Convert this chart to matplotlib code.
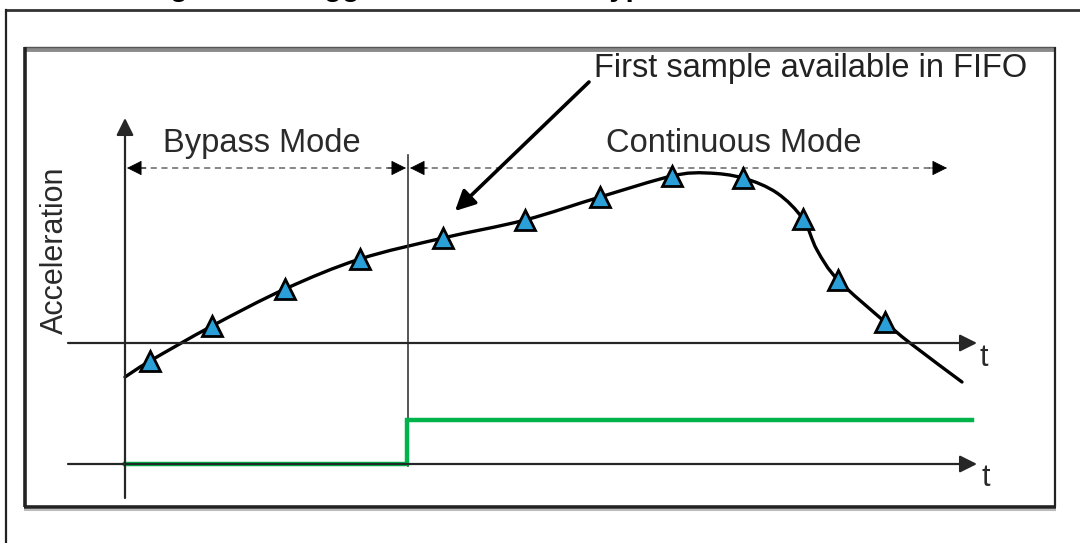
import matplotlib
matplotlib.use("Agg")
import matplotlib.pyplot as plt
from matplotlib.path import Path
import matplotlib.patches as patches

plt.rcParams['font.family'] = ['Liberation Sans', 'DejaVu Sans']

# diagram coordinates (x right, y down)
title = "Figure 11. Trigger event in FIFO Bypass-to-Continuous mode"
mode_labels = ["Bypass Mode", "Continuous Mode"]
mode_label_x = [262, 734]
note_text = "First sample available in FIFO"

# acceleration trace and the FIFO samples on it
curve_x = [125, 150, 212, 285, 360, 443, 525, 600, 672, 707, 743, 777, 803, 817,
           838, 885, 910, 962]
curve_y = [377, 361, 326, 289, 259, 238, 220, 197, 176, 173, 178, 193, 219, 250,
           280, 322, 343, 382]
sample_x = [150, 212, 285, 360, 443, 525, 600, 672, 743, 803, 838, 885]
sample_y = [361, 326, 289, 259, 238, 220, 197, 176, 178, 219, 280, 322]

# trigger signal (low in bypass, high in continuous)
trigger_x = [125, 407, 407, 972]
trigger_y = [464, 464, 420, 420]
switch_x = 408


def smooth_path(xs, ys):
    """Catmull-Rom through the points, as cubic bezier segments"""
    pts = list(zip(xs, ys))
    verts = [pts[0]]
    codes = [Path.MOVETO]
    n = len(pts)
    for i in range(n - 1):
        p0 = pts[i - 1] if i > 0 else pts[i]
        p1 = pts[i]
        p2 = pts[i + 1]
        p3 = pts[i + 2] if i + 2 < n else pts[i + 1]
        c1 = (p1[0] + (p2[0] - p0[0]) / 6, p1[1] + (p2[1] - p0[1]) / 6)
        c2 = (p2[0] - (p3[0] - p1[0]) / 6, p2[1] - (p3[1] - p1[1]) / 6)
        verts += [c1, c2, p2]
        codes += [Path.CURVE4] * 3
    return Path(verts, codes)


fig = plt.figure(figsize=(10.8, 5.43), dpi=100)
ax = fig.add_axes([0, 0, 1, 1])
ax.set_xlim(0, 1080)
ax.set_ylim(543, 0)
ax.axis('off')

# caption sits above the crop, only its descenders show
ax.text(565, -3.5, title, ha='center', va='baseline', fontsize=21,
        fontweight='bold', color='black')

# outer frame
ax.plot([6, 1080], [10, 10], color='#333333', lw=2)
ax.plot([6, 6], [10, 543], color='#222222', lw=1.6)

# inner frame with a bit of shadow
ax.plot([24, 1055], [49, 49], color='#8a8a8a', lw=3.5, solid_capstyle='butt')
ax.plot([24, 1055], [47, 47], color='#555555', lw=1, solid_capstyle='butt')
ax.plot([24.5, 24.5], [47, 507], color='#222222', lw=2.6, solid_capstyle='butt')
ax.plot([24, 1056], [506.5, 506.5], color='#222222', lw=2.6, solid_capstyle='butt')
ax.plot([24, 1056], [509.5, 509.5], color='#bbbbbb', lw=1.5, solid_capstyle='butt')
ax.plot([1055, 1055], [47, 507], color='#222222', lw=1.6, solid_capstyle='butt')

axis_col = '#262626'
# vertical acceleration axis
ax.annotate('', xy=(125, 118), xytext=(125, 498),
            arrowprops=dict(arrowstyle='-|>', color=axis_col, lw=1.6,
                            mutation_scale=26, shrinkA=0, shrinkB=0))
# the two time axes
for ty in (343, 464):
    ax.annotate('', xy=(977, ty), xytext=(68, ty),
                arrowprops=dict(arrowstyle='-|>', color=axis_col, lw=1.6,
                                mutation_scale=26, shrinkA=0, shrinkB=0))
ax.text(979, 366, 't', fontsize=22, color='#2a2a2a', ha='left', va='baseline')
ax.text(981, 486, 't', fontsize=22, color='#2a2a2a', ha='left', va='baseline')

# mode switch line
ax.plot([switch_x, switch_x], [155, 466], color='#3a3a3a', lw=1.2)

ax.text(55, 250, 'Acceleration', rotation=90, fontsize=22, color='#2a2a2a',
        ha='center', va='center')

# mode spans
dash_y = 168
ax.plot([140, 395], [dash_y, dash_y], color='#666666', lw=1.1, ls=(0, (4, 3)))
ax.plot([421, 930], [dash_y, dash_y], color='#666666', lw=1.1, ls=(0, (4, 3)))
for tip, tail in [(127, 146), (406, 388), (410, 428), (947, 929)]:
    ax.annotate('', xy=(tip, dash_y), xytext=(tail, dash_y),
                arrowprops=dict(arrowstyle='-|>', color='black', lw=0.5,
                                mutation_scale=24, shrinkA=0, shrinkB=0))
for lbl, lx in zip(mode_labels, mode_label_x):
    ax.text(lx, 152, lbl, fontsize=23.5, color='#2a2a2a', ha='center',
            va='baseline')

# acceleration curve with samples
ax.add_patch(patches.PathPatch(smooth_path(curve_x, curve_y), fill=False,
                               edgecolor='black', lw=2.4, capstyle='round'))
ax.plot(sample_x, sample_y, ls='none', marker='^', markersize=15,
        markerfacecolor='#2a9fd8', markeredgecolor='black', markeredgewidth=2)

# trigger signal
ax.plot(trigger_x, trigger_y, color='#00b34a', lw=3.2, solid_joinstyle='miter')

# callout
ax.text(594, 77, note_text, fontsize=23.5, color='#222222', ha='left',
        va='baseline')
ax.annotate('', xy=(455, 211), xytext=(589, 82),
            arrowprops=dict(arrowstyle='-|>', color='black', lw=2.6,
                            mutation_scale=30, shrinkA=0, shrinkB=0))

fig.savefig('out.png', dpi=100)
